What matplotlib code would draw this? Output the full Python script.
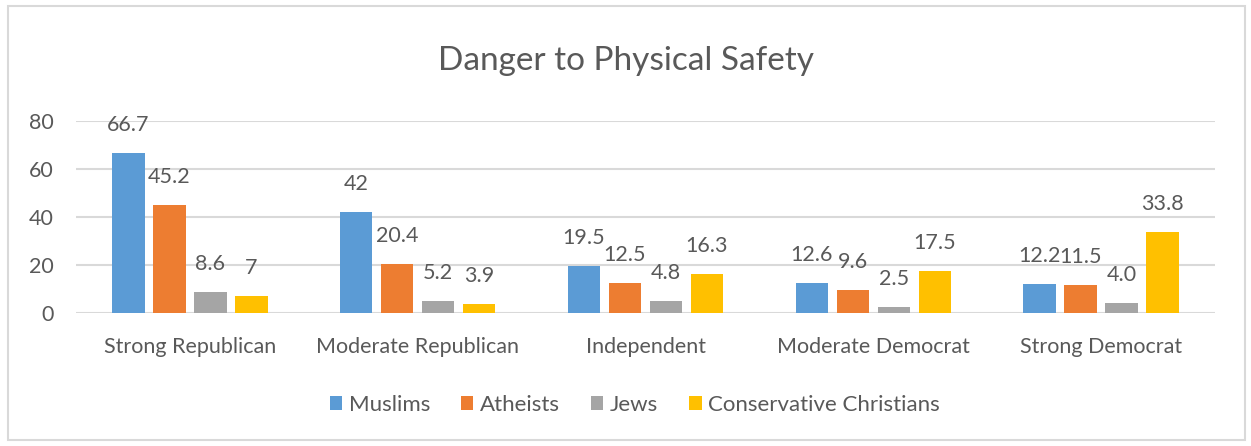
import matplotlib
matplotlib.use("Agg")
import matplotlib.pyplot as plt
import numpy as np
from matplotlib.patches import Rectangle

categories = ["Strong Republican", "Moderate Republican", "Independent", "Moderate Democrat", "Strong Democrat"]
series_names = ["Muslims", "Atheists", "Jews", "Conservative Christians"]
muslims = [66.7, 42, 19.5, 12.6, 12.2]
atheists = [45.2, 20.4, 12.5, 9.6, 11.5]
jews = [8.6, 5.2, 4.8, 2.5, 4.0]
cons_christians = [7, 3.9, 16.3, 17.5, 33.8]
label_texts = [
    ["66.7", "42", "19.5", "12.6", "12.2"],
    ["45.2", "20.4", "12.5", "9.6", "11.5"],
    ["8.6", "5.2", "4.8", "2.5", "4.0"],
    ["7", "3.9", "16.3", "17.5", "33.8"],
]
yticks = [0, 20, 40, 60, 80]
title = "Danger to Physical Safety"

colors = ["#5B9BD5", "#ED7D31", "#A5A5A5", "#FFC000"]
text_color = "#595959"
plt.rcParams['font.family'] = ['Lato', 'DejaVu Sans']

W, H = 1251, 446
fig = plt.figure(figsize=(W / 100, H / 100), dpi=100)
fig.patch.set_facecolor("white")
fig.patches.append(Rectangle((8 / W, 6 / H), 1237 / W, 434 / H, transform=fig.transFigure,
                             fill=False, edgecolor="#D9D9D9", linewidth=1.5))

ax = fig.add_axes([76 / W, (H - 313) / H, 1139 / W, 192 / H])
x = np.arange(len(categories))
width = 0.142
step = 0.18
data = [muslims, atheists, jews, cons_christians]
for i, (vals, name, c) in enumerate(zip(data, series_names, colors)):
    pos = x + (i - 1.5) * step
    ax.bar(pos, vals, width=width, color=c, label=name, zorder=3)
    for p, v, t in zip(pos, vals, label_texts[i]):
        ax.annotate(t, (p, v), xytext=(0, 28), textcoords="offset pixels",
                    ha="center", va="center", fontsize=15.5, color=text_color)

ax.set_xlim(-0.5, len(categories) - 0.5)
ax.set_ylim(0, 80)
ax.set_yticks(yticks)
ax.set_yticklabels([str(v) for v in yticks])
ax.set_xticks(x)
ax.set_xticklabels(categories)
ax.tick_params(axis="both", length=0, labelsize=15.5, labelcolor=text_color)
ax.tick_params(axis="y", pad=16)
ax.tick_params(axis="x", pad=17)
ax.grid(axis="y", color="#D9D9D9", linewidth=1.5, zorder=0)
for s in ax.spines.values():
    s.set_visible(False)

fig.text(0.5, (H - 61) / H, title, ha="center", va="center", fontsize=24, color=text_color)

handles, labels = ax.get_legend_handles_labels()
fig.legend(handles, labels, loc="center", bbox_to_anchor=(635 / W, (H - 405) / H), ncol=4,
           frameon=False, fontsize=16, labelcolor=text_color, handlelength=0.55, handleheight=0.55,
           handletextpad=0.3, columnspacing=1.4)

fig.savefig("out.png", dpi=100)
